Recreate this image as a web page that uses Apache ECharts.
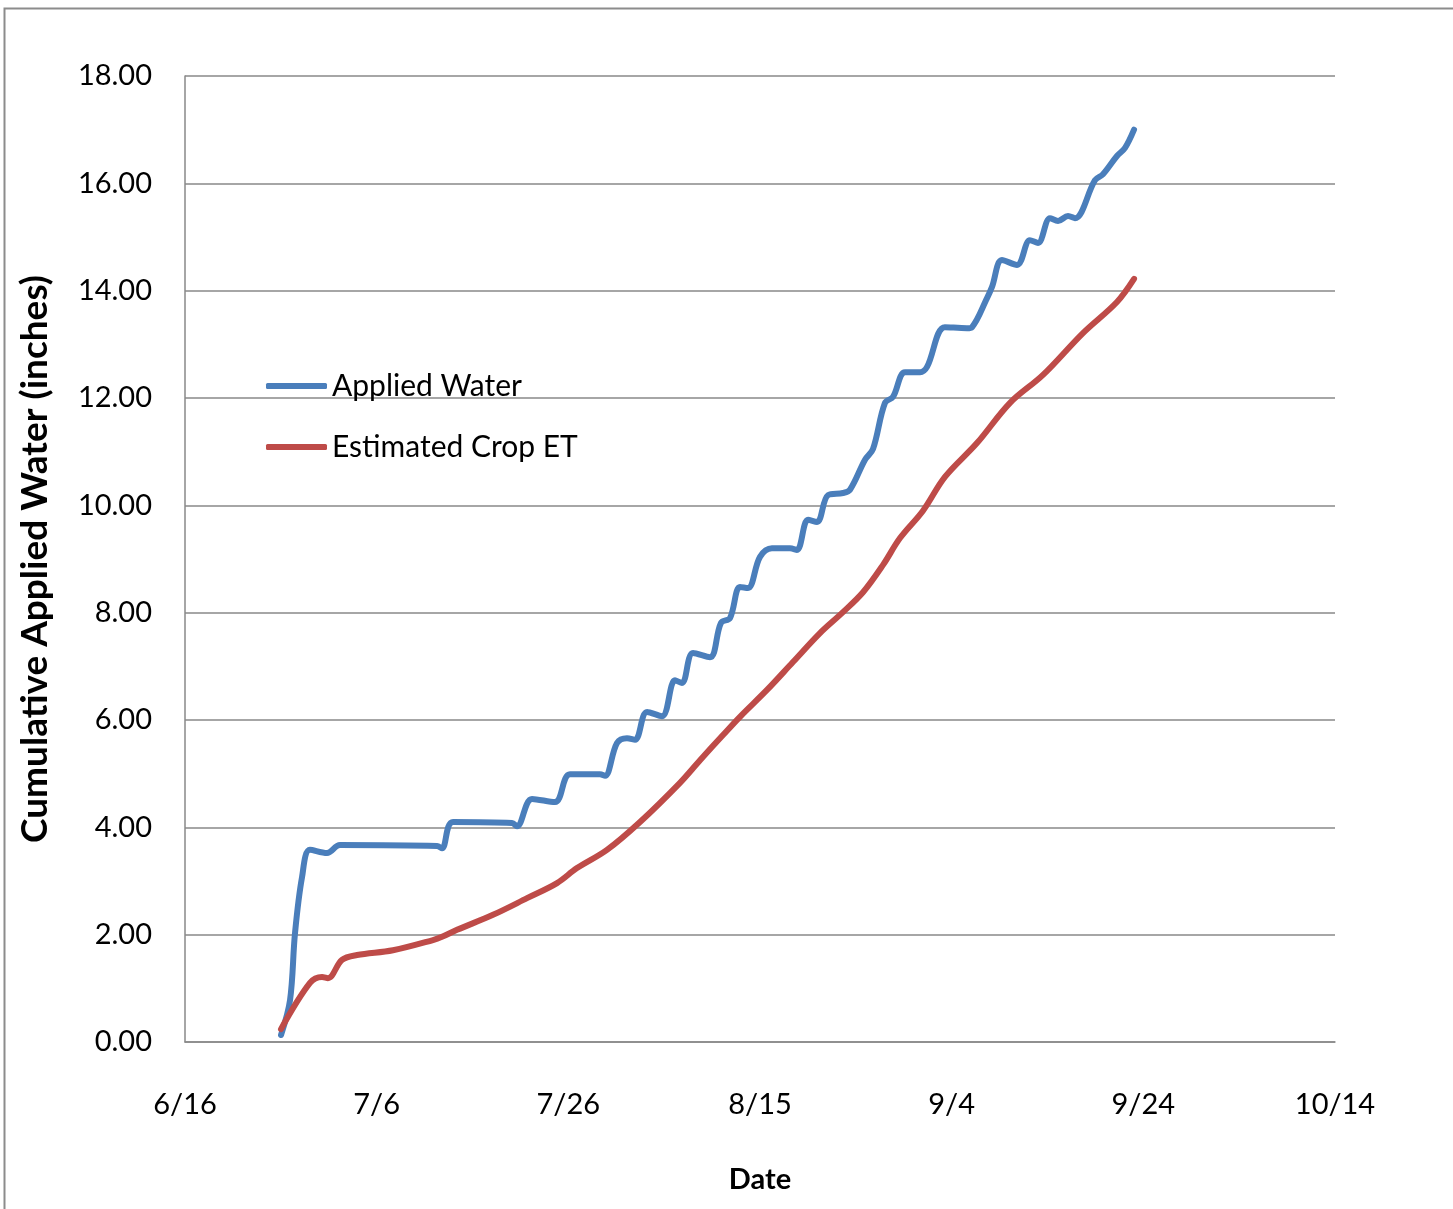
<!DOCTYPE html>
<html>
<head>
<meta charset="utf-8">
<script src="https://cdn.jsdelivr.net/npm/echarts@6/dist/echarts.min.js"></script>
<style>
html,body{margin:0;padding:0;background:#fff;}
#chart{width:1453px;height:1209px;}
</style>
</head>
<body>
<div id="chart"></div>
<script>
// x values are days after 6/16
const xTickLabels = ['6/16','7/6','7/26','8/15','9/4','9/24','10/14'];
const yTickLabels = ['0.00','2.00','4.00','6.00','8.00','10.00','12.00','14.00','16.00','18.00'];

const appliedDays = [10.02,10.96,11.48,12.21,13.04,14.82,16.17,26.30,26.82,27.97,34.12,34.64,36.21,38.61,40.17,43.30,43.83,45.08,46.12,46.96,48.21,49.77,51.13,51.86,53.01,54.78,55.93,56.87,57.91,58.75,60.00,61.25,63.13,63.86,65.01,65.95,67.10,68.66,69.39,70.96,71.79,73.04,73.88,75.13,76.70,77.43,79.30,81.60,82.12,83.69,84.21,85.25,86.82,88.17,89.01,90.26,91.10,92.14,92.87,94.96,95.79,97.25,98.09,99.03];
const appliedValues = [0.13,0.78,2.03,3.07,3.58,3.52,3.67,3.65,3.61,4.10,4.08,4.02,4.53,4.47,4.99,4.99,4.96,5.57,5.66,5.63,6.15,6.07,6.74,6.69,7.25,7.17,7.81,7.90,8.48,8.46,9.04,9.20,9.20,9.17,9.73,9.69,10.19,10.23,10.29,10.85,11.05,11.91,12.02,12.48,12.48,12.58,13.32,13.30,13.32,13.86,14.07,14.57,14.48,14.94,14.89,15.35,15.30,15.39,15.35,16.06,16.17,16.51,16.66,17.00];

const etDays = [10.02,13.04,14.30,14.92,16.38,17.95,21.70,25.88,26.82,28.38,32.14,35.69,38.82,40.90,44.03,47.48,51.65,53.74,56.14,57.91,60.73,63.44,66.26,68.66,70.75,72.84,74.61,77.01,79.30,82.64,86.09,89.53,93.70,97.25,99.03];
const etValues = [0.24,1.10,1.21,1.19,1.53,1.62,1.71,1.90,1.96,2.09,2.37,2.68,2.96,3.24,3.58,4.10,4.83,5.25,5.72,6.06,6.56,7.08,7.62,8.01,8.38,8.89,9.39,9.90,10.53,11.16,11.91,12.43,13.21,13.79,14.22];

const pair = (xs, ys) => xs.map((x, i) => [x, ys[i]]);
const FONT = 'Lato';
const gridColor = '#898989';

const chart = echarts.init(document.getElementById('chart'));
chart.setOption({
  animation: false,
  backgroundColor: '#fff',
  textStyle: {fontFamily: FONT},
  graphic: [{
    type: 'rect',
    shape: {x: 4.5, y: 8.5, width: 1500, height: 1300},
    style: {fill: 'none', stroke: '#8c8c8c', lineWidth: 2},
    silent: true
  }],
  grid: {left: 185, right: 118, top: 76, bottom: 167, containLabel: false},
  legend: {
    orient: 'vertical',
    left: 261, top: 366,
    itemWidth: 61, itemHeight: 6, itemGap: 31,
    icon: 'roundRect',
    textStyle: {fontFamily: FONT, fontSize: 30, color: '#000', lineHeight: 30},
    data: ['Applied Water', 'Estimated Crop ET']
  },
  xAxis: {
    type: 'value', min: 0, max: 120, interval: 20,
    name: 'Date', nameLocation: 'middle', nameGap: 123,
    nameTextStyle: {fontFamily: FONT, fontSize: 29, fontWeight: 'bold', color: '#000'},
    axisLine: {show: true, lineStyle: {color: gridColor, width: 1.5}},
    axisTick: {show: false},
    splitLine: {show: false},
    axisLabel: {
      margin: 48, fontFamily: FONT, fontSize: 29, color: '#000',
      formatter: v => xTickLabels[Math.round(v / 20)] || ''
    }
  },
  yAxis: {
    type: 'value', min: 0, max: 18, interval: 2,
    name: 'Cumulative Applied Water (inches)', nameLocation: 'middle', nameGap: 131,
    nameTextStyle: {fontFamily: FONT, fontSize: 37, fontWeight: 'bold', color: '#000'},
    axisLine: {show: true, lineStyle: {color: gridColor, width: 1.5}},
    axisTick: {show: false},
    splitLine: {show: true, lineStyle: {color: gridColor, width: 1.5}},
    axisLabel: {
      margin: 33, fontFamily: FONT, fontSize: 29, color: '#000',
      formatter: v => yTickLabels[Math.round(v / 2)] || ''
    }
  },
  series: [
    {
      name: 'Applied Water', type: 'line', smooth: 0.35, showSymbol: false, symbol: 'none',
      data: pair(appliedDays, appliedValues),
      lineStyle: {color: '#4A7EBB', width: 6, cap: 'round', join: 'round'},
      itemStyle: {color: '#4A7EBB'}, z: 3
    },
    {
      name: 'Estimated Crop ET', type: 'line', smooth: 0.35, showSymbol: false, symbol: 'none',
      data: pair(etDays, etValues),
      lineStyle: {color: '#BE4B48', width: 6, cap: 'round', join: 'round'},
      itemStyle: {color: '#BE4B48'}, z: 4
    }
  ]
});
</script>
</body>
</html>
